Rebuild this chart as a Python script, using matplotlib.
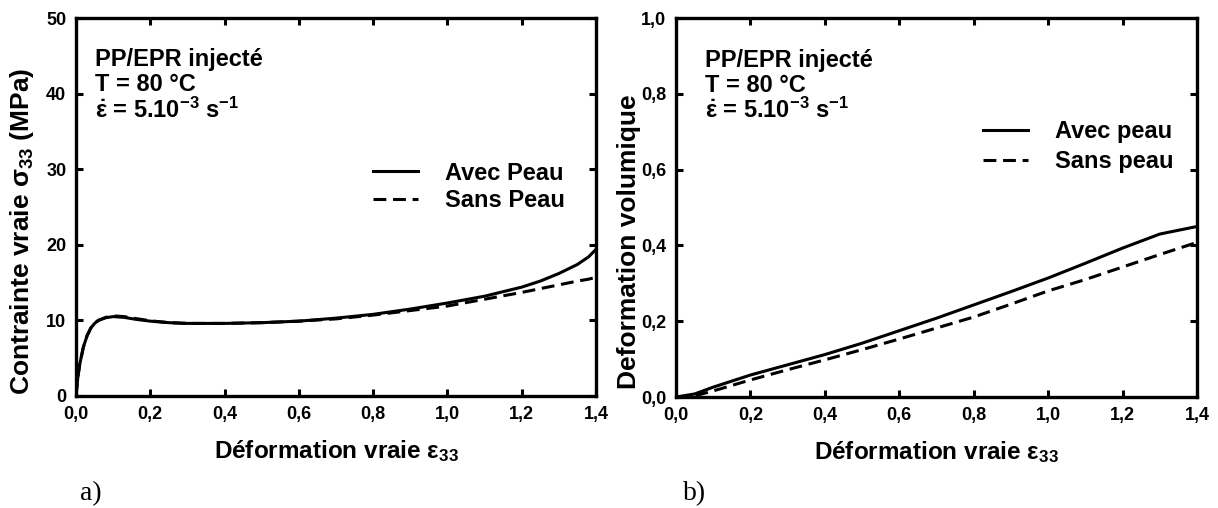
import matplotlib
matplotlib.use("Agg")
import matplotlib.pyplot as plt
import numpy as np

plt.rcParams['font.family'] = ['Liberation Sans', 'DejaVu Sans']
plt.rcParams['font.weight'] = 'bold'
plt.rcParams['mathtext.fontset'] = 'custom'
plt.rcParams['mathtext.rm'] = 'Liberation Sans:bold'
plt.rcParams['mathtext.it'] = 'Liberation Sans:bold'
plt.rcParams['mathtext.bf'] = 'Liberation Sans:bold'

# a) contrainte vraie en fonction de la déformation vraie
eps_a = [0.0, 0.005, 0.01, 0.02, 0.03, 0.04, 0.05, 0.06, 0.08, 0.10, 0.13, 0.16, 0.20,
         0.25, 0.30, 0.40, 0.50, 0.60, 0.70, 0.80, 0.90, 1.00, 1.10, 1.20, 1.25, 1.30,
         1.35, 1.38, 1.40]
sig_avec = [0.0, 2.5, 4.2, 6.5, 8.0, 9.0, 9.6, 10.0, 10.35, 10.5, 10.4, 10.15, 9.9,
            9.7, 9.6, 9.6, 9.7, 9.9, 10.3, 10.8, 11.5, 12.3, 13.2, 14.4, 15.2, 16.2,
            17.4, 18.4, 19.4]
sig_sans = [0.0, 2.5, 4.2, 6.5, 8.0, 9.0, 9.6, 10.0, 10.4, 10.6, 10.5, 10.25, 9.95,
            9.7, 9.6, 9.6, 9.7, 9.9, 10.2, 10.7, 11.3, 11.9, 12.8, 13.7, 14.2, 14.7,
            15.2, 15.45, 15.7]

# b) déformation volumique
eps_b = [0.0, 0.05, 0.10, 0.20, 0.30, 0.40, 0.50, 0.60, 0.70, 0.80, 0.90, 1.00, 1.10,
         1.20, 1.30, 1.40]
vol_avec = [0.0, 0.008, 0.026, 0.058, 0.085, 0.112, 0.142, 0.175, 0.208, 0.243, 0.278,
            0.314, 0.353, 0.393, 0.430, 0.450]
vol_sans = [0.0, 0.003, 0.016, 0.045, 0.072, 0.098, 0.125, 0.153, 0.182, 0.211, 0.245,
            0.280, 0.310, 0.343, 0.376, 0.408]

xticks = [0.0, 0.2, 0.4, 0.6, 0.8, 1.0, 1.2, 1.4]
xlabels = ['0,0', '0,2', '0,4', '0,6', '0,8', '1,0', '1,2', '1,4']
yticks_a = [0, 10, 20, 30, 40, 50]
ylabels_a = ['0', '10', '20', '30', '40', '50']
yticks_b = [0.0, 0.2, 0.4, 0.6, 0.8, 1.0]
ylabels_b = ['0,0', '0,2', '0,4', '0,6', '0,8', '1,0']

info = ["PP/EPR injecté", "T = 80 °C", r"$\dot{\varepsilon}$ = 5.10$^{-3}$ s$^{-1}$"]

fig = plt.figure(figsize=(12.18, 5.08), dpi=100)
ax1 = fig.add_axes([0.0624, 0.2205, 0.4269, 0.744])
ax2 = fig.add_axes([0.555, 0.2185, 0.4278, 0.746])


def style(ax, yticks, ylabels, ylim):
    ax.set_xlim(0, 1.4)
    ax.set_ylim(*ylim)
    ax.set_xticks(xticks)
    ax.set_xticklabels(xlabels, fontsize=13, fontweight='bold')
    ax.set_yticks(yticks)
    ax.set_yticklabels(ylabels, fontsize=13, fontweight='bold')
    for s in ax.spines.values():
        s.set_linewidth(2.4)
    ax.tick_params(direction='in', length=5, width=2.2, top=True, right=True, pad=7)
    ax.set_xlabel("Déformation vraie ε$_{33}$", fontsize=17.5, fontweight='bold')
    ax.xaxis.set_label_coords(0.5, -0.112)


def infotext(ax, x):
    for txt, y in zip(info, [0.889, 0.823, 0.757]):
        ax.text(x, y, txt, transform=ax.transAxes, fontsize=17, fontweight='bold',
                va='center', ha='left')


ax1.plot(eps_a, sig_avec, '-', color='black', lw=2.2, label='Avec Peau')
ax1.plot(eps_a, sig_sans, '--', color='black', lw=2.2, dashes=(4.2, 2.2), label='Sans Peau')
style(ax1, yticks_a, ylabels_a, (0, 50))
ax1.set_ylabel("Contrainte vraie σ$_{33}$ (MPa)", fontsize=19, fontweight='bold')
ax1.yaxis.set_label_coords(-0.076, 0.437)
infotext(ax1, 0.036)
ax1.legend(loc='upper left', bbox_to_anchor=(0.571, 0.62), frameon=False, fontsize=17,
           handlelength=1.9, handletextpad=1.15, labelspacing=0.2, borderpad=0,
           borderaxespad=0)

ax2.plot(eps_b, vol_avec, '-', color='black', lw=2.2, label='Avec peau')
ax2.plot(eps_b, vol_sans, '--', color='black', lw=2.2, dashes=(4.2, 2.2), label='Sans peau')
style(ax2, yticks_b, ylabels_b, (0, 1.0))
ax2.set_ylabel("Deformation volumique", fontsize=19, fontweight='bold')
ax2.yaxis.set_label_coords(-0.068, 0.41)
infotext(ax2, 0.056)
ax2.legend(loc='upper left', bbox_to_anchor=(0.589, 0.73), frameon=False, fontsize=17,
           handlelength=1.9, handletextpad=1.15, labelspacing=0.3, borderpad=0,
           borderaxespad=0)

fig.text(0.0657, 0.016, "a)", fontsize=20, family='Liberation Serif', fontweight='normal',
         va='baseline')
fig.text(0.561, 0.016, "b)", fontsize=20, family='Liberation Serif', fontweight='normal',
         va='baseline')

fig.savefig("out.png", dpi=100)
